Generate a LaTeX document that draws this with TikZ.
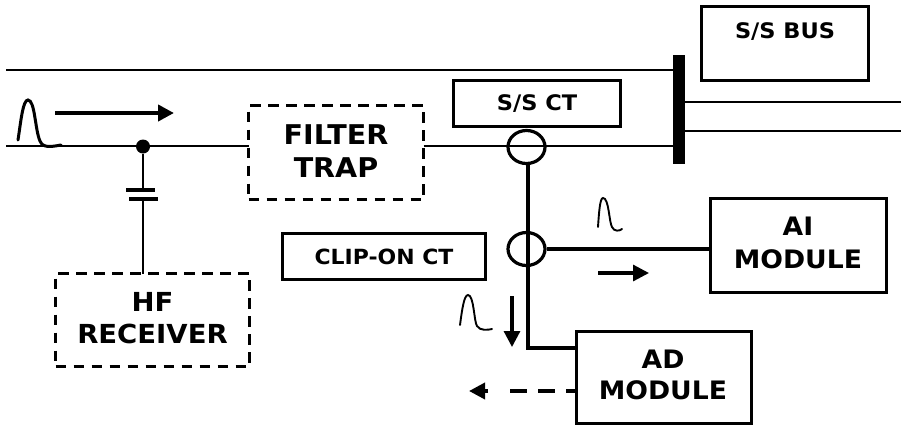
\documentclass[tikz,border=0pt]{standalone}
\usepackage{fontspec}
\setmainfont{DejaVu Sans}[FakeStretch=1.05]
\usetikzlibrary{arrows.meta,shapes.geometric}
\tikzset{
 sbox/.style={draw=black,line width=3.2pt,fill=white,anchor=north west,inner sep=0pt,outer sep=0pt,align=center},
 dbox/.style={sbox,dash pattern=on 10.5pt off 7.5pt},
 small/.style={font=\bfseries\fontsize{21.4}{25}\selectfont},
 big/.style={font=\bfseries\fontsize{27.2}{33}\selectfont,align=center},
 mod/.style={font=\bfseries\fontsize{25.4}{33}\selectfont,align=center},
 wire/.style={line width=2pt},
 thick wire/.style={line width=3.6pt},
 pulse/.style={line width=1.9pt,line cap=round},
 flow/.style={line width=3.2pt,-{Triangle[length=16pt,width=16pt]}},
 ct/.style={draw=black,line width=3.2pt,ellipse,minimum width=37pt,minimum height=33pt,inner sep=0pt},
 plate/.style={line width=3.8pt}
}
\begin{document}
\begin{tikzpicture}[x=1pt,y=-1pt]
\useasboundingbox (0,0) rectangle (901,424);
\coordinate (topL) at (6,70);
\coordinate (topR) at (673,70);
\coordinate (midL) at (6,146);
\coordinate (midR) at (673,146);
\coordinate (barT) at (679,55);
\coordinate (barB) at (679,164);
\coordinate (r1L) at (685,102);
\coordinate (r1R) at (901,102);
\coordinate (r2L) at (685,131);
\coordinate (r2R) at (901,131);
\coordinate (p1a) at (126,190);
\coordinate (p1b) at (155,190);
\coordinate (p2a) at (129,199);
\coordinate (p2b) at (158,199);
\coordinate (capT) at (143,190);
\coordinate (capB) at (143,199);
\coordinate (bend) at (528,348);
% boxes
\node[sbox,minimum width=167pt,minimum height=74pt] (bus) at (701.5,6.5) {};
\node[small] (bustext) at (785,32) {S/S BUS};
\node[sbox,small,minimum width=167pt,minimum height=46pt] (sct) at (453.5,80.5) {\raisebox{-3.5pt}{S/S CT}};
\node[sbox,small,minimum width=203pt,minimum height=46pt,font=\bfseries\fontsize{20.9}{25}\selectfont] (clip) at (282.5,233.5) {\raisebox{-4pt}{CLIP-ON CT}};
\node[dbox,minimum width=175pt,minimum height=94pt] (trap) at (248.5,105.5) {};
\node[big] (traptext) at (336,151) {FILTER\\TRAP};
\node[dbox,minimum width=194pt,minimum height=93pt] (hf) at (55.5,273.5) {};
\node[big,font=\bfseries\fontsize{26.2}{32}\selectfont] (hftext) at (152.5,318) {HF\\RECEIVER};
\node[sbox,minimum width=176pt,minimum height=94pt] (ai) at (710.5,198.5) {};
\node[mod] (aitext) at (798,243) {AI\\MODULE};
\node[sbox,minimum width=175pt,minimum height=92pt] (ad) at (576.5,331.5) {};
\node[mod,font=\bfseries\fontsize{25.4}{31}\selectfont] (adtext) at (663,375) {AD\\MODULE};
% lines
\draw[wire] (topL) -- (topR);
\draw[wire] (midL) -- (trap.west |- midL);
\draw[wire] (trap.east |- midR) -- (midR);
\draw[wire] (r1L) -- (r1R);
\draw[wire] (r2L) -- (r2R);
\draw[line width=12pt] (barT) -- (barB);
% junction and capacitor
\node[circle,fill=black,inner sep=0pt,minimum size=14pt] (dot) at (143,146.5) {};
\draw[wire] (dot) -- (capT);
\draw[wire] (capB) -- (hf.north -| capB);
\draw[plate] (p1a) -- (p1b);
\draw[plate] (p2a) -- (p2b);
% CTs
\node[ct] (ct1) at (526.5,147) {};
\node[ct] (ct2) at (526.5,249) {};
\draw[thick wire] (ct1.south -| bend) -- (bend) -- (bend -| ad.west);
\draw[thick wire] (ct2.east) -- (ct2.east -| ai.west);
% arrows
\coordinate (a1s) at (55,113); \coordinate (a1e) at (174,113);
\draw[flow,line width=4pt] (a1s) -- (a1e);
\coordinate (a2s) at (598,273); \coordinate (a2e) at (649,273);
\draw[flow] (a2s) -- (a2e);
\coordinate (a3s) at (512,296); \coordinate (a3e) at (512,347);
\draw[flow] (a3s) -- (a3e);
\coordinate (a4e) at (469,391);
\coordinate (a4m) at (509,391);
\coordinate (a4t) at (488,391);
\draw[line width=3.6pt,dash pattern=on 17pt off 11pt,dash phase=6pt] (ad.west |- a4e) -- (a4m);
\draw[line width=3.6pt,-{Triangle[length=16pt,width=16pt]}] (a4t) -- (a4e);
% pulses
\draw[pulse,line width=3pt] (18,140) .. controls (21,120) and (23,100) .. (28,100) .. controls (35,100) and (35,130) .. (40,141) .. controls (43,148) and (50,147) .. (61,145);
\draw[pulse] (598,227) .. controls (599,212) and (600,198) .. (603,198) .. controls (609,198) and (609,222) .. (612,227) .. controls (614,232) and (620,231) .. (622,229);
\draw[pulse] (460,325) .. controls (462,310) and (464,295) .. (468,295) .. controls (474,295) and (474,322) .. (477,326) .. controls (480,331) and (488,330) .. (492,329);
\end{tikzpicture}
\end{document}
